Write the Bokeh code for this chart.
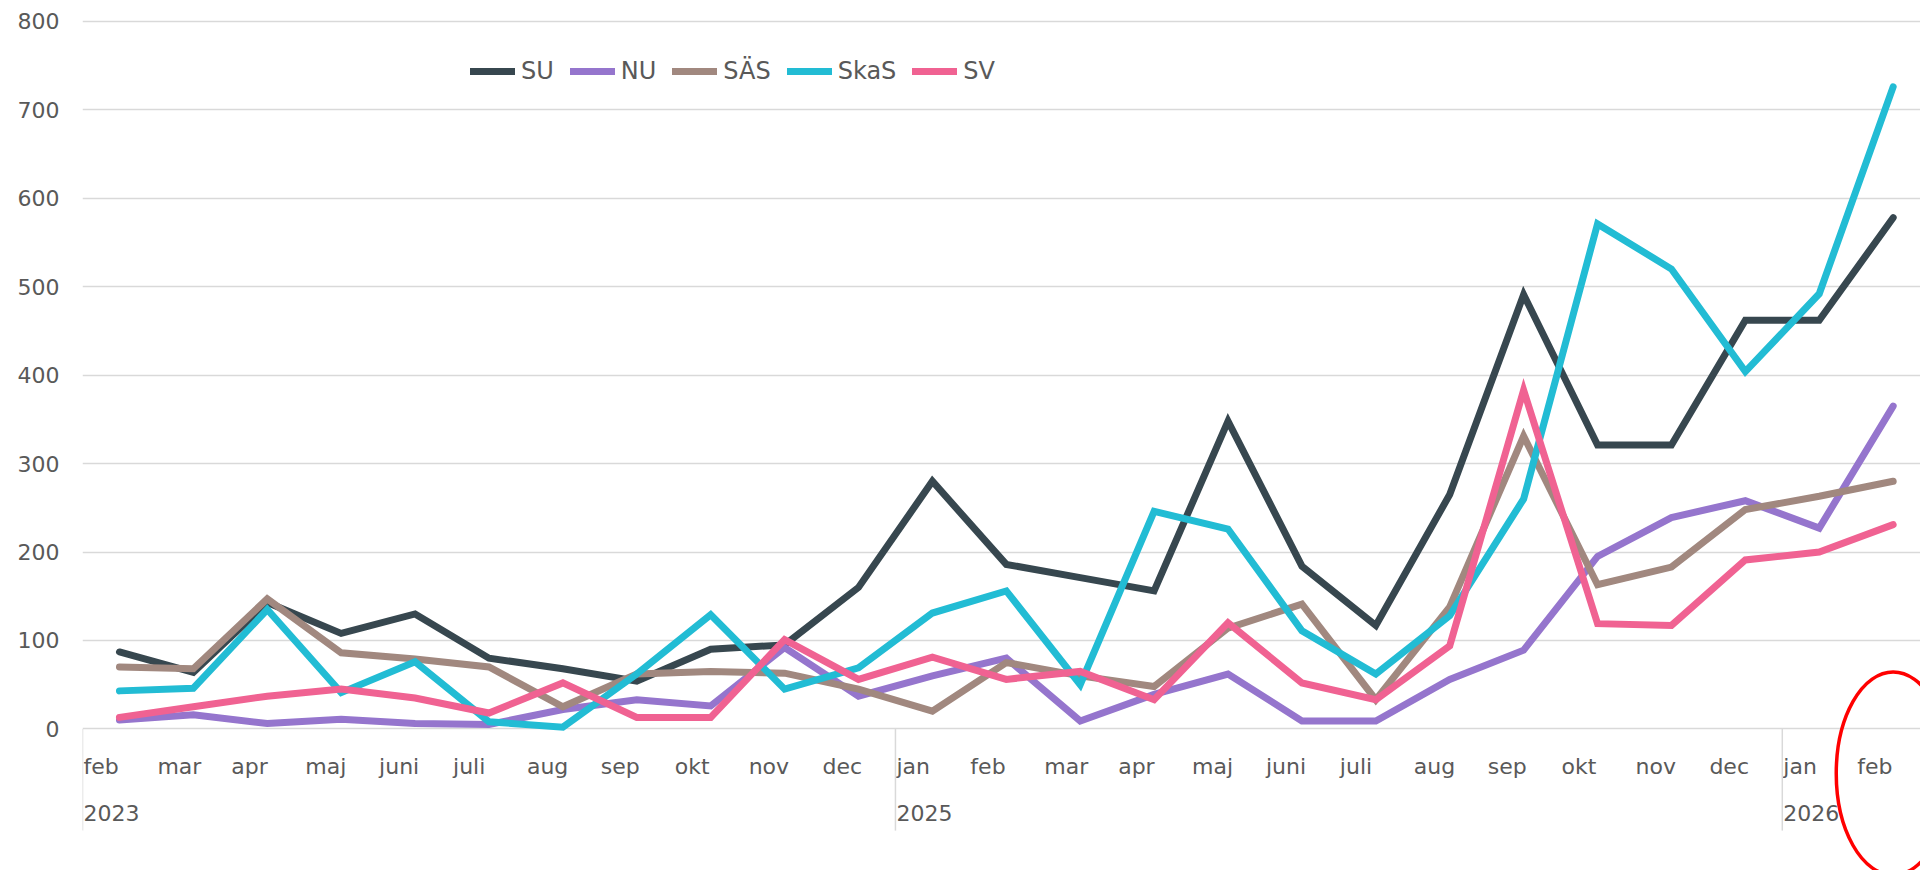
from bokeh.plotting import figure
from bokeh.models import Range1d, FixedTicker, Legend, LegendItem, ColumnDataSource
from bokeh.core.properties import value
from bokeh.embed import file_html
from bokeh.resources import INLINE

# ---- data ----
months = ["feb", "mar", "apr", "maj", "juni", "juli", "aug", "sep", "okt", "nov", "dec",
          "jan", "feb", "mar", "apr", "maj", "juni", "juli", "aug", "sep", "okt", "nov", "dec",
          "jan", "feb"]
years = ["2023", "2025", "2026"]
year_start = [0, 11, 23]

SU = [87, 64, 143, 108, 130, 80, 68, 54, 90, 95, 160, 280, 186, 171, 156, 348, 184, 117, 265, 491, 321, 321, 462, 462, 578]
NU = [10, 16, 6, 11, 6, 5, 22, 33, 26, 92, 37, 60, 80, 9, 39, 62, 9, 9, 56, 89, 195, 239, 258, 227, 365]
SAS = [70, 68, 147, 86, 79, 70, 25, 62, 65, 63, 45, 20, 75, 60, 48, 114, 141, 33, 138, 331, 163, 183, 248, 263, 280]
SkaS = [43, 46, 135, 41, 76, 8, 2, 62, 129, 45, 69, 131, 156, 50, 246, 226, 111, 62, 128, 260, 571, 520, 404, 492, 726]
SV = [13, 25, 37, 45, 35, 18, 52, 13, 13, 101, 56, 81, 56, 65, 33, 120, 52, 33, 94, 383, 119, 117, 191, 200, 231]

series_names = ["SU", "NU", "SÄS", "SkaS", "SV"]
series_values = [SU, NU, SAS, SkaS, SV]
series_colors = ["#37474F", "#9575CD", "#A1887F", "#22BCD4", "#F06292"]
y_ticks = [0, 100, 200, 300, 400, 500, 600, 700, 800]

FONT = "DejaVu Sans"
TXT = "#595959"
GRID = "#d9d9d9"

x = list(range(len(months)))

p = figure(width=1920, height=870, output_backend="svg", toolbar_location=None,
           x_range=Range1d(-0.5, 24.37), y_range=Range1d(-160.1, 823.6),
           x_axis_location=None, min_border_left=82, min_border_right=0,
           min_border_top=0, min_border_bottom=0)
p.outline_line_color = None
p.background_fill_color = "white"
p.border_fill_color = "white"

# y axis
yax = p.yaxis[0]
yax.ticker = FixedTicker(ticks=y_ticks)
yax.axis_line_color = None
yax.major_tick_line_color = None
yax.minor_tick_line_color = None
yax.major_tick_out = 0
yax.major_tick_in = 0
yax.major_label_standoff = 23
yax.major_label_text_font = FONT
yax.major_label_text_font_size = "22px"
yax.major_label_text_color = TXT

p.xgrid.grid_line_color = None
p.ygrid.ticker = FixedTicker(ticks=y_ticks)
p.ygrid.grid_line_color = GRID
p.ygrid.grid_line_width = 1.5

# category axis drawn as text in the frame
month_src = ColumnDataSource(dict(x=[i - 0.5 for i in x], y=[-42.3] * len(months), t=months))
p.text(x="x", y="y", text="t", source=month_src, text_font=value(FONT), text_font_size="22px",
       text_color=TXT, text_align="left", text_baseline="middle", x_offset=1)
year_src = ColumnDataSource(dict(x=[i - 0.5 for i in year_start], y=[-95.5] * len(years), t=years))
p.text(x="x", y="y", text="t", source=year_src, text_font=value(FONT), text_font_size="22px",
       text_color=TXT, text_align="left", text_baseline="middle", x_offset=1)
p.segment(x0=[i - 0.5 for i in year_start], x1=[i - 0.5 for i in year_start],
          y0=[0] * len(years), y1=[-115] * len(years), line_color=GRID, line_width=1.5)

# series
items = []
for name, vals, col in zip(series_names, series_values, series_colors):
    r = p.line(x, vals, line_color=col, line_width=7, line_cap="round", line_join="miter")
    items.append(LegendItem(label=name, renderers=[r]))

legend = Legend(items=items, orientation="horizontal", location=(388, 785),
                border_line_color=None, background_fill_alpha=0,
                label_text_font=FONT, label_text_font_size="24px", label_text_color=TXT,
                glyph_width=45, glyph_height=22, label_standoff=6, spacing=16,
                padding=0, margin=0, label_height=22)
p.add_layout(legend, "center")

# red hand-drawn highlight ellipse around the last month
p.ellipse(x=[x[-1]], y=[-50.4], width=1.54, height=229.5, fill_color=None,
          line_color="#FF0000", line_width=3.5)

open("out.html", "w").write(file_html(p, INLINE))
